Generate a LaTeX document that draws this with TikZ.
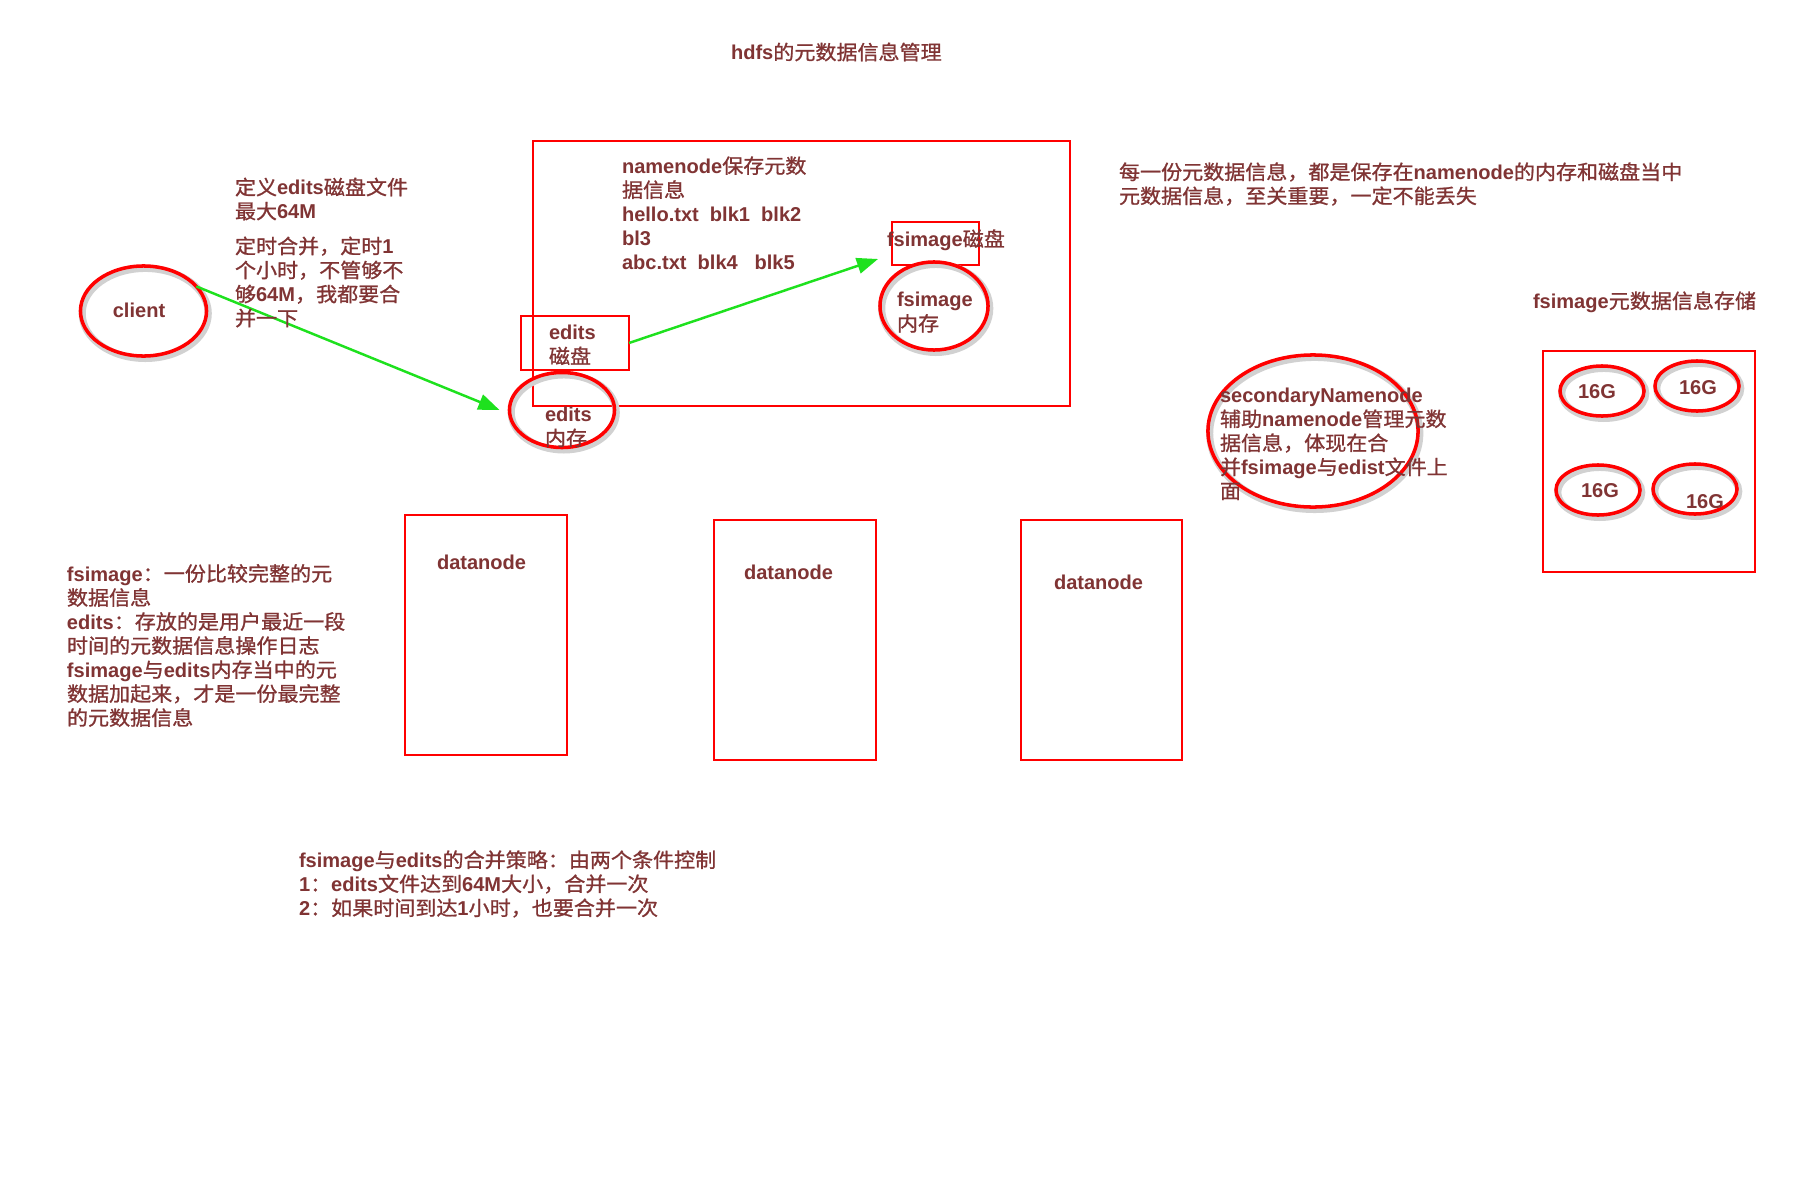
\documentclass[tikz,border=0pt]{standalone}
\usepackage{fontspec}
\setmainfont{Noto Sans CJK SC}[FakeBold=1,FakeStretch=1.05]
\newfontfamily\latf{Liberation Sans}
\newcommand\la[1]{{\latf\bfseries #1}}
\usetikzlibrary{arrows.meta,fit,shapes.geometric}
\definecolor{txt}{RGB}{128,52,52}
\definecolor{grn}{RGB}{30,225,30}
\begin{document}
\begin{tikzpicture}[x=0.01cm,y=-0.01cm,
  lbl/.style={font=\fontsize{5.7pt}{6.83pt}\selectfont, text=txt, align=left, anchor=west, inner sep=0pt, outer sep=0pt},
  box/.style={draw=red, line width=0.7pt, inner sep=0pt, outer sep=0pt},
  ring/.style={ellipse, draw=red, line width=1pt, inner sep=0pt, outer sep=0pt,
    preaction={draw=black!18, line width=2pt, transform canvas={xshift=0.5pt,yshift=-0.7pt}}},
  flow/.style={draw=grn, line width=0.7pt, -{Triangle[length=6pt,width=4.5pt]}}
]
\fill[white] (0,0) rectangle (1800,1200);
\useasboundingbox (0,0) rectangle (1800,1200);

% boxes
\node[box, fit={(533,141) (1070,406)}] (namenode) {};
\node[box, fit={(521,316) (629,370)}] (editsdisk) {};
\node[box, fit={(892,222) (979,265)}] (fsdisk) {};
\node[box, fit={(1543,351) (1755,572)}] (store) {};
\node[box, fit={(405,515) (567,755)}] (dn1) {};
\node[box, fit={(714,520) (876,760)}] (dn2) {};
\node[box, fit={(1021,520) (1182,760)}] (dn3) {};

% ellipses
\node[ring, minimum width=1.26cm, minimum height=0.90cm] (client) at (143.5,311) {};
\node[ring, minimum width=1.05cm, minimum height=0.75cm] (editsmem) at (562,410) {};
\node[ring, minimum width=1.08cm, minimum height=0.88cm] (fsmem) at (934,306) {};
\node[ring, minimum width=2.10cm, minimum height=1.52cm] (snn) at (1313,431) {};
\node[ring, minimum width=0.84cm, minimum height=0.50cm] (g1) at (1602,391) {};
\node[ring, minimum width=0.84cm, minimum height=0.50cm] (g2) at (1697,386) {};
\node[ring, minimum width=0.84cm, minimum height=0.50cm] (g3) at (1598,490) {};
\node[ring, minimum width=0.84cm, minimum height=0.50cm] (g4) at (1695,489) {};

% connectors
\draw[flow] (client.25) -- ([xshift=-0.1cm]editsmem.west);
\draw[flow] (editsdisk.east) -- ([xshift=-0.14cm,yshift=0.06cm]fsdisk.south west);

% texts
\node[lbl] (title) at (731,52) {\la{hdfs}的元数据信息管理};
\node[lbl] (tdef) at (235,199) {定义\la{edits}磁盘文件\\最大\la{64M}};
\node[lbl] (ttimer) at (235,282) {定时合并，定时\la{1}\\个小时，不管够不\\够\la{64M}，我都要合\\并一下};
\node[lbl, anchor=center] (tclient) at (139,310) {\la{client}};
\node[lbl] (tedisk) at (549,345) {\la{edits}\\磁盘};
\node[lbl] (temem) at (545,427) {\la{edits}\\内存};
\node[lbl] (tnn) at (622,213) {\la{namenode}保存元数\\据信息\\\la{hello.txt\ \ blk1\ \ blk2}\\\la{bl3}\\\la{abc.txt\ \ blk4\ \ \ blk5}};
\node[lbl] (tfsdisk) at (887,240) {\la{fsimage}磁盘};
\node[lbl] (tfsmem) at (897,312.5) {\la{fsimage}\\内存};
\node[lbl] (tright) at (1119,184) {每一份元数据信息，都是保存在\la{namenode}的内存和磁盘当中\\元数据信息，至关重要，一定不能丢失};
\node[lbl] (tstore) at (1533,302) {\la{fsimage}元数据信息存储};
\node[lbl] (tsnn) at (1220,444) {\la{secondaryNamenode}\\辅助\la{namenode}管理元数\\据信息，体现在合\\并\la{fsimage}与\la{edist}文件上\\面};
\node[lbl, anchor=center] (tg1) at (1597,392) {\la{16G}};
\node[lbl, anchor=center] (tg2) at (1698,388) {\la{16G}};
\node[lbl, anchor=center] (tg3) at (1600,491) {\la{16G}};
\node[lbl, anchor=center] (tg4) at (1705,502) {\la{16G}};
\node[lbl] (tdn1) at (437,562) {\la{datanode}};
\node[lbl] (tdn2) at (744,572) {\la{datanode}};
\node[lbl] (tdn3) at (1054,582) {\la{datanode}};
\node[lbl] (tleft) at (67,645.5) {\la{fsimage}：一份比较完整的元\\数据信息\\\la{edits}：存放的是用户最近一段\\时间的元数据信息操作日志\\\la{fsimage}与\la{edits}内存当中的元\\数据加起来，才是一份最完整\\的元数据信息};
\node[lbl] (tbottom) at (299,884) {\la{fsimage}与\la{edits}的合并策略：由两个条件控制\\\la{1}：\la{edits}文件达到\la{64M}大小，合并一次\\\la{2}：如果时间到达\la{1}小时，也要合并一次};
\end{tikzpicture}
\end{document}
